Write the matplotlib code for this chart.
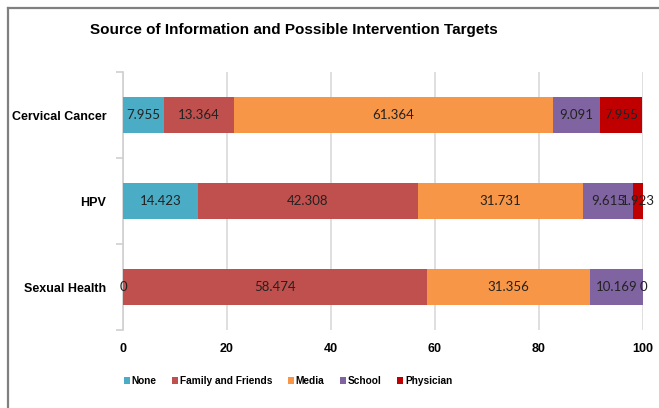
import matplotlib
matplotlib.use("Agg")
import matplotlib.pyplot as plt
import numpy as np

categories = ["Cervical Cancer", "HPV", "Sexual Health"]
sources = ["None", "Family and Friends", "Media", "School", "Physician"]
none_vals = [7.955, 14.423, 0]
family_vals = [13.364, 42.308, 58.474]
media_vals = [61.364, 31.731, 31.356]
school_vals = [9.091, 9.615, 10.169]
physician_vals = [7.955, 1.923, 0]
colors = ["#4BACC6", "#C0504D", "#F79646", "#8064A2", "#C00000"]

series = [none_vals, family_vals, media_vals, school_vals, physician_vals]

fig = plt.figure(figsize=(6.59, 4.08), dpi=100)
ax = fig.add_axes([123 / 659, 78 / 408, 520 / 659, 258 / 408])

# document frame around the chart
fig.add_artist(plt.Line2D([8 / 659, 8 / 659], [0, 1 - 8 / 408], color="#808080", lw=1.6))
fig.add_artist(plt.Line2D([8 / 659, 1], [1 - 8 / 408, 1 - 8 / 408], color="#808080", lw=1.6))

y = np.arange(len(categories))
left = np.zeros(len(categories))
for name, vals, col in zip(sources, series, colors):
    vals = np.array(vals)
    ax.barh(y, vals, left=left, height=0.42, color=col, label=name, zorder=3)
    for yi, l, v in zip(y, left, vals):
        ax.text(l + v / 2, yi, f"{v:g}" if v == 0 else f"{v:.3f}",
                ha="center", va="center", fontsize=9.5, family="Lato",
                color="#222222", zorder=4)
    left += vals

ax.set_xlim(0, 100)
ax.set_ylim(2.5, -0.5)
ax.set_xticks([0, 20, 40, 60, 80, 100])
ax.set_xticklabels(["0", "20", "40", "60", "80", "100"], fontsize=9,
                   fontweight="bold", family="Liberation Sans")
ax.set_yticks(y)
ax.set_yticklabels(categories, fontsize=9, fontweight="bold", family="Liberation Sans")
ax.set_yticks([-0.5, 0.5, 1.5, 2.5], minor=True)
ax.tick_params(axis="y", which="major", length=0, pad=12)
ax.tick_params(axis="y", which="minor", length=5, color="#D0D0D0", width=1.2)
ax.tick_params(axis="x", length=0, pad=9)
ax.grid(axis="x", color="#D9D9D9", lw=1.2, zorder=0)
for s in ["top", "right", "bottom"]:
    ax.spines[s].set_visible(False)
ax.spines["left"].set_color("#D0D0D0")
ax.spines["left"].set_linewidth(1.2)

fig.text(90 / 659, 1 - 30 / 408, "Source of Information and Possible Intervention Targets",
         fontsize=11, fontweight="bold", family="Liberation Sans", va="center")

fig.legend(loc="center", bbox_to_anchor=(288 / 659, 1 - 381 / 408), ncol=5,
           frameon=False, handlelength=0.6, handleheight=0.6, handletextpad=0.2,
           columnspacing=1.5, prop={"family": "Liberation Sans", "weight": "bold", "size": 7.3})

fig.savefig("out.png", dpi=100)
